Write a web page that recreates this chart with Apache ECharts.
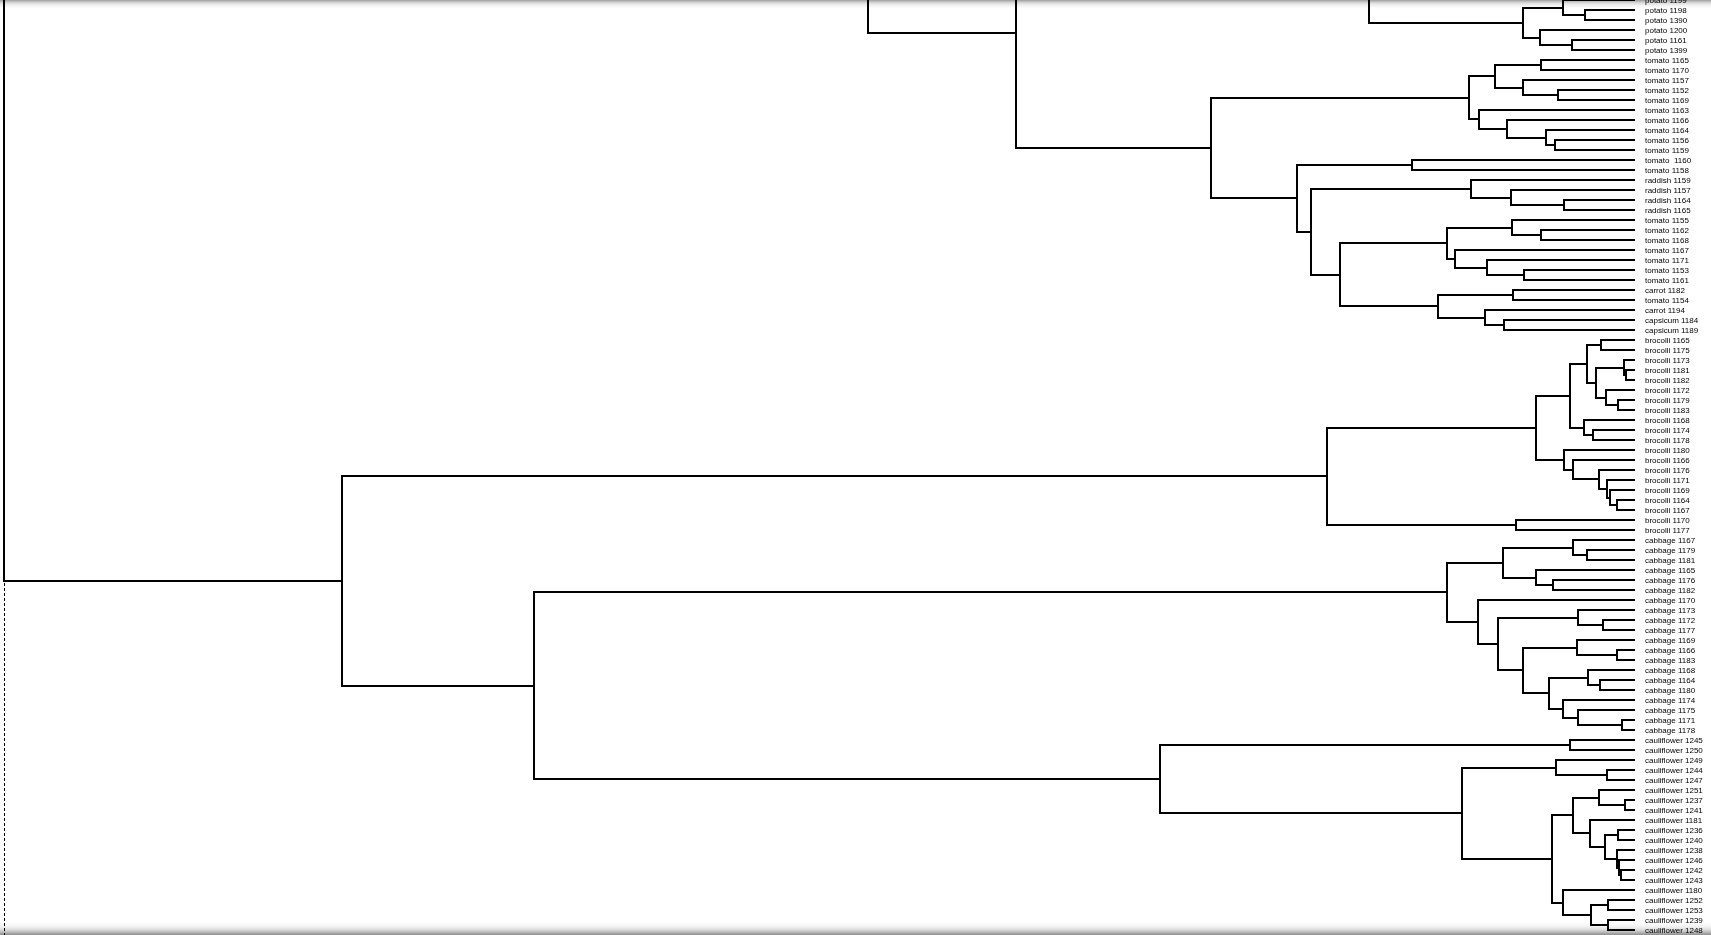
<!DOCTYPE html>
<html>
<head>
<meta charset="utf-8">
<script src="https://cdn.jsdelivr.net/npm/echarts@6/dist/echarts.min.js"></script>
<style>
html,body{margin:0;padding:0;background:#fff;overflow:hidden}
#chart{width:1711px;height:935px}
</style>
</head>
<body>
<div id="chart"></div>
<script>
// Leaf labels, one per row, top to bottom (row 0 is cut by the top edge of the view)
const leafNames = [
  "potato 1199","potato 1198","potato 1390","potato 1200","potato 1161","potato 1399",
  "tomato 1165","tomato 1170","tomato 1157","tomato 1152","tomato 1169","tomato 1163",
  "tomato 1166","tomato 1164","tomato 1156","tomato 1159","tomato  1160","tomato 1158",
  "raddish 1159","raddish 1157","raddish 1164","raddish 1165",
  "tomato 1155","tomato 1162","tomato 1168","tomato 1167","tomato 1171","tomato 1153","tomato 1161",
  "carrot 1182","tomato 1154","carrot 1194","capsicum 1184","capsicum 1189",
  "brocolli 1165","brocolli 1175","brocolli 1173","brocolli 1181","brocolli 1182","brocolli 1172",
  "brocolli 1179","brocolli 1183","brocolli 1168","brocolli 1174","brocolli 1178","brocolli 1180",
  "brocolli 1166","brocolli 1176","brocolli 1171","brocolli 1169","brocolli 1164","brocolli 1167",
  "brocolli 1170","brocolli 1177",
  "cabbage 1167","cabbage 1179","cabbage 1181","cabbage 1165","cabbage 1176","cabbage 1182",
  "cabbage 1170","cabbage 1173","cabbage 1172","cabbage 1177","cabbage 1169","cabbage 1166",
  "cabbage 1183","cabbage 1168","cabbage 1164","cabbage 1180","cabbage 1174","cabbage 1175",
  "cabbage 1171","cabbage 1178",
  "cauliflower 1245","cauliflower 1250","cauliflower 1249","cauliflower 1244","cauliflower 1247",
  "cauliflower 1251","cauliflower 1237","cauliflower 1241","cauliflower 1181","cauliflower 1236",
  "cauliflower 1240","cauliflower 1238","cauliflower 1246","cauliflower 1242","cauliflower 1243",
  "cauliflower 1180","cauliflower 1252","cauliflower 1253","cauliflower 1239","cauliflower 1248"
];

// Branches lying above the visible window (scrolled off): [name, row]
const hiddenLeaves = [["hA", -5], ["hB", -15], ["hC", -30]];

// Potato / tomato / raddish / carrot / capsicum clusters: [name, childA, childB, height]
// (numbers = leaf rows, strings = earlier merges)
const mergesUpper = [
  ["a",1,2,50],["A1",0,"a",72],["b",4,5,63],["c",3,"b",95],["d","A1","c",112],["P1","hA","d",266],
  ["e",6,7,94],["f",9,10,77],["g",8,"f",112],["h","e","g",140],["i",14,15,80],["j",13,"i",89],
  ["k",12,"j",128],["l",11,"k",156],["m","h","l",166],
  ["n",16,17,223],["o",20,21,71],["p",19,"o",124],["q",18,"p",164],["r",23,24,94],["s",22,"r",123],
  ["t",27,28,111],["u",26,"t",148],["v",25,"u",180],["w","s","v",188],["x",29,30,122],["y",32,33,131],
  ["z",31,"y",150],["aa","x","z",197],["bb","w","aa",295],["cc","q","bb",324],["dd","n","cc",338],
  ["ee","m","dd",424],["T","hB","P1",485],["ff","T","ee",619],["Q","hC","ff",767]
];

// Brocolli cluster
const mergesBrocolli = [
  ["g1",34,35,34],["g2",37,38,9],["g3",36,"g2",11],["g4",40,41,17],["g5",39,"g4",29],["g6","g3","g5",39],
  ["g7","g1","g6",48],["g8",43,44,42],["g9",42,"g8",51],["g10","g7","g9",65],["g11",50,51,18],
  ["g12",49,"g11",25],["g13",48,"g12",28],["g14",47,"g13",36],["g15",46,"g14",62],["g16",45,"g15",71],
  ["g17","g10","g16",99],["g18",52,53,119],["g19","g17","g18",308]
];

// Cabbage cluster
const mergesCabbage = [
  ["c1",55,56,48],["c2",54,"c1",62],["c3",58,59,82],["c4",57,"c3",99],["c5","c2","c4",132],
  ["c6",62,63,32],["c7",61,"c6",57],["c8",65,66,18],["c9",64,"c8",58],["c10",68,69,35],
  ["c11",67,"c10",47],["c12",72,73,13],["c13",71,"c12",57],["c14",70,"c13",72],["c15","c11","c14",86],
  ["c16","c9","c15",112],["c17","c7","c16",137],["c18",60,"c17",157],["c19","c5","c18",188]
];

// Cauliflower cluster
const mergesCauliflower = [
  ["k1",74,75,65],["k2",77,78,28],["k3",76,"k2",79],["k4",80,81,10],["k5",79,"k4",36],
  ["k6",83,84,17],["k7",87,88,14],["k8",86,"k7",16],["k9",85,"k8",18],["k10","k6","k9",30],
  ["k11",82,"k10",45],["k12","k5","k11",62],["k13",90,91,27],["k14",92,93,27],["k15","k13","k14",44],
  ["k16",89,"k15",72],["k17","k12","k16",83],["k18","k3","k17",173],["k19","k1","k18",475]
];

// Top-level joins
const mergesTop = [
  ["L2","c19","k19",1101],["L","g19","L2",1293],["root","Q","L",1631]
];

const X_MAX = 1631;       // root height
const Y_MAX = 93.5;       // last visible row span

// ---- build node positions ----
const pos = {};
leafNames.forEach((nm, r) => { pos[r] = {h: 0, y: r}; });
hiddenLeaves.forEach(([nm, r]) => { pos[nm] = {h: 0, y: r}; });
const allMerges = [].concat(mergesUpper, mergesBrocolli, mergesCabbage, mergesCauliflower, mergesTop);
const linkData = [];
allMerges.forEach(([nm, a, b, h]) => {
  const A = pos[a], B = pos[b];
  const top = A.y <= B.y ? A : B;
  const bot = top === A ? B : A;
  pos[nm] = {h: h, y: (A.y + B.y) / 2};
  linkData.push([h, pos[nm].y, top.h, top.y, bot.h, bot.y, nm === "root" ? 1 : 0]);
});
const leafData = leafNames.map((nm, r) => [0, r, nm]);

const R = v => Math.round(v);

const chart = echarts.init(document.getElementById('chart'), null, {renderer: 'canvas'});
chart.setOption({
  animation: false,
  backgroundColor: '#ffffff',
  grid: {left: 4, right: 76, top: 0, bottom: 0, containLabel: false},
  xAxis: {type: 'value', inverse: true, min: 0, max: X_MAX, show: false},
  yAxis: {type: 'value', inverse: true, min: 0, max: Y_MAX, show: false},
  graphic: [
    {type: 'rect', z: 0, silent: true, shape: {x: 0, y: 0, width: 1711, height: 10},
     style: {fill: new echarts.graphic.LinearGradient(0, 0, 0, 1, [
       {offset: 0, color: 'rgba(150,150,150,0.95)'},
       {offset: 0.35, color: 'rgba(205,205,205,0.6)'},
       {offset: 1, color: 'rgba(255,255,255,0)'}])}},
    {type: 'rect', z: 0, silent: true, shape: {x: 0, y: 921, width: 1711, height: 14},
     style: {fill: new echarts.graphic.LinearGradient(0, 0, 0, 1, [
       {offset: 0, color: 'rgba(255,255,255,0)'},
       {offset: 0.6, color: 'rgba(215,215,215,0.8)'},
       {offset: 1, color: 'rgba(140,140,140,1)'}])}}
  ],
  series: [
    {
      type: 'custom',
      silent: true,
      z: 5,
      data: linkData,
      renderItem: function (params, api) {
        const h = api.value(0), ha = api.value(2), ya = api.value(3), hb = api.value(4), yb = api.value(5);
        const c = p => [R(p[0]), R(p[1])];
        const p1 = c(api.coord([ha, ya])), p2 = c(api.coord([h, ya]));
        const p3 = c(api.coord([h, yb])), p4 = c(api.coord([hb, yb]));
        const kids = [{
          type: 'polyline',
          shape: {points: [p1, p2, p3, p4]},
          style: {stroke: '#000', lineWidth: 2, fill: null}
        }];
        if (api.value(6)) {
          const p5 = c(api.coord([h, Y_MAX]));
          kids.push({
            type: 'line',
            shape: {x1: p3[0] + 0.5, y1: p3[1] + 2, x2: p5[0] + 0.5, y2: p5[1]},
            style: {stroke: '#000', lineWidth: 1, lineDash: [3, 2]}
          });
        }
        return {type: 'group', children: kids};
      }
    },
    {
      type: 'custom',
      silent: true,
      z: 6,
      data: leafData,
      renderItem: function (params, api) {
        const p = api.coord([api.value(0), api.value(1)]);
        return {
          type: 'text',
          x: R(p[0]) + 10,
          y: R(p[1]) + 1,
          style: {
            text: leafNames[api.value(1)],
            fill: '#000',
            fontSize: 8,
            fontFamily: '"Liberation Sans", Arial, sans-serif',
            verticalAlign: 'middle',
            align: 'left'
          }
        };
      }
    }
  ]
});
</script>
</body>
</html>
